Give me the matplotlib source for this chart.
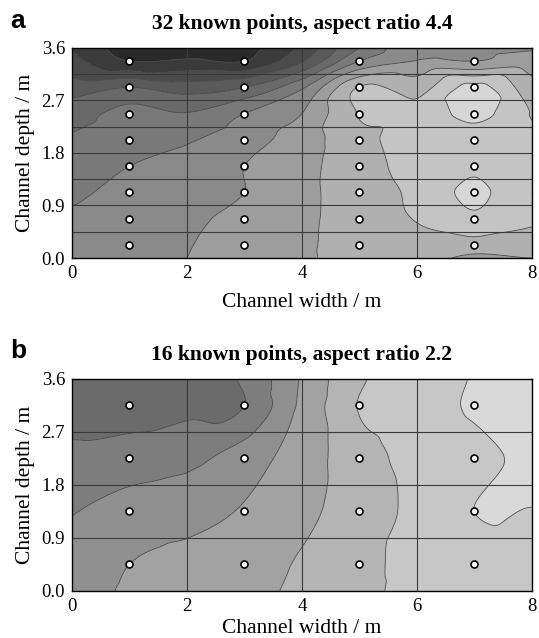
import numpy as np
import matplotlib
matplotlib.use("Agg")
import matplotlib.pyplot as plt
import matplotlib.tri as mtri

plt.rcParams['font.family'] = ['Liberation Serif', 'DejaVu Serif']

# ---------------- Panel a : field values at grid nodes (columns x = 0..8) ----------------
xa_nodes = [0, 1, 2, 3, 4, 5, 6, 7, 8]
ya_nodes = [0.0, 0.225, 0.675, 1.125, 1.575, 2.025, 2.475, 2.925, 3.375, 3.6]
za_x0 = [6.5, 6.4, 6.15, 5.8, 5.5, 5.15, 4.5, 3.5, 2.3, 1.9]
za_x1 = [6.65, 6.6, 6.5, 6.3, 6.0, 5.65, 5.35, 4.0, 1.0, 0.5]
za_x2 = [7.0, 6.95, 6.8, 6.6, 6.3, 5.9, 5.05, 3.5, 1.15, 0.4]
za_x3 = [7.5, 7.45, 7.3, 7.0, 7.0, 6.6, 6.0, 4.0, 1.0, 0.6]
za_x4 = [7.85, 7.85, 7.8, 7.75, 7.7, 7.5, 7.0, 5.85, 2.9, 2.2]
za_x5 = [8.4, 8.4, 8.45, 8.5, 8.6, 8.7, 9.05, 9.05, 6.0, 5.0]
za_x6 = [8.5, 8.7, 9.05, 9.2, 9.35, 9.4, 9.25, 8.6, 7.05, 6.7]
za_x7 = [7.7, 8.6, 9.8, 10.2, 9.85, 9.5, 10.3, 10.3, 7.0, 6.7]
za_x8 = [8.0, 8.5, 9.15, 9.0, 9.2, 9.3, 8.95, 8.3, 7.4, 6.9]
levels_a = [1, 2, 3, 4, 5, 6, 7, 8, 9, 10]
colors_a = ['#2a2a2a', '#3b3b3b', '#4b4b4b', '#5a5a5a', '#696969', '#797979',
            '#8a8a8a', '#9d9d9d', '#b0b0b0', '#c4c4c4', '#d6d6d6']
# known measurement points
pa_x = [1, 3, 5, 7]
pa_y = [0.225, 0.675, 1.125, 1.575, 2.025, 2.475, 2.925, 3.375]

# ---------------- Panel b ----------------
xb_nodes = [0, 1, 2, 3, 4, 5, 6, 7, 8]
yb_nodes = [0.0, 0.45, 1.35, 2.25, 3.15, 3.6]
zb_x0 = [2.45, 2.3, 1.95, 1.25, 0.6, 0.3]
zb_x1 = [3.15, 3.0, 2.4, 1.5, 0.5, 0.3]
zb_x2 = [3.45, 3.3, 2.6, 1.75, 0.75, 0.5]
zb_x3 = [3.7, 3.6, 3.1, 2.5, 1.0, 1.15]
zb_x4 = [4.2, 4.1, 3.75, 3.5, 3.2, 3.1]
zb_x5 = [4.65, 4.65, 4.5, 4.6, 5.05, 4.85]
zb_x6 = [5.4, 5.4, 5.25, 5.3, 5.6, 5.5]
zb_x7 = [5.55, 5.6, 6.0, 5.75, 6.1, 6.05]
zb_x8 = [5.65, 5.7, 5.98, 6.2, 6.3, 6.3]
levels_b = [1, 2, 3, 4, 5, 6]
colors_b = ['#6b6b6b', '#7d7d7d', '#8f8f8f', '#a2a2a2', '#b4b4b4', '#c7c7c7', '#d9d9d9']
pb_x = [1, 3, 5, 7]
pb_y = [0.45, 1.35, 2.25, 3.15]

xticks = [0, 2, 4, 6, 8]
yticks = [0.0, 0.9, 1.8, 2.7, 3.6]


def field(xn, yn, cols, nx=401, ny=181):
    X, Y = np.meshgrid(np.array(xn, float), np.array(yn, float), indexing='ij')
    Z = np.array(cols, float)
    tri = mtri.Triangulation(X.ravel(), Y.ravel())
    interp = mtri.CubicTriInterpolator(tri, Z.ravel(), kind='geom')
    xi = np.linspace(0, 8, nx)
    yi = np.linspace(0, 3.6, ny)
    XI, YI = np.meshgrid(xi, yi)
    ZI = interp(XI, YI)
    return xi, yi, np.ma.filled(ZI, np.nan)


def panel(ax, xn, yn, cols, levels, colors, px, py, hgrid, title, letter, xlpad):
    xi, yi, zi = field(xn, yn, cols)
    lv = [-1e3] + list(levels) + [1e3]
    ax.contourf(xi, yi, zi, levels=lv, colors=colors)
    ax.contour(xi, yi, zi, levels=levels, colors='#4a4a4a', linewidths=0.6)
    for g in hgrid:
        ax.axhline(g, color='#3a3a3a', lw=0.8, zorder=3)
    for g in [2, 4, 6]:
        ax.axvline(g, color='#3a3a3a', lw=0.8, zorder=3)
    PX, PY = np.meshgrid(px, py)
    ax.plot(PX.ravel(), PY.ravel(), 'o', ms=5.0, mfc='white', mec='black',
            mew=1.2, zorder=5)
    ax.set_xlim(0, 8)
    ax.set_ylim(0, 3.6)
    ax.set_xticks(xticks)
    ax.set_yticks(yticks)
    ax.set_yticklabels(['%.1f' % v for v in yticks])
    ax.tick_params(length=0, labelsize=13.5, pad=5)
    for s in ax.spines.values():
        s.set_linewidth(1.0)
        s.set_zorder(6)
    ax.set_xlabel('Channel width / m', fontsize=15.5, labelpad=xlpad)
    ax.set_ylabel('Channel depth / m', fontsize=15.5, labelpad=5)
    ax.set_title(title, fontsize=15.5, fontweight='bold', pad=14)
    ax.text(-0.135, 1.13, letter, transform=ax.transAxes, fontsize=19,
            fontweight='bold', family=['Liberation Sans', 'DejaVu Sans'],
            ha='left', va='center')


fig = plt.figure(figsize=(5.39, 6.38), dpi=100)
ax_a = fig.add_axes([0.1336, 0.5956, 0.853, 0.3292])
ax_b = fig.add_axes([0.1336, 0.074, 0.853, 0.332])

panel(ax_a, xa_nodes, ya_nodes,
      [za_x0, za_x1, za_x2, za_x3, za_x4, za_x5, za_x6, za_x7, za_x8],
      levels_a, colors_a, pa_x, pa_y,
      [0.45, 0.9, 1.35, 1.8, 2.25, 2.7, 3.15],
      '32 known points, aspect ratio 4.4', 'a', 8)
panel(ax_b, xb_nodes, yb_nodes,
      [zb_x0, zb_x1, zb_x2, zb_x3, zb_x4, zb_x5, zb_x6, zb_x7, zb_x8],
      levels_b, colors_b, pb_x, pb_y,
      [0.9, 1.8, 2.7],
      '16 known points, aspect ratio 2.2', 'b', 3)

fig.savefig('out.png', dpi=100)
